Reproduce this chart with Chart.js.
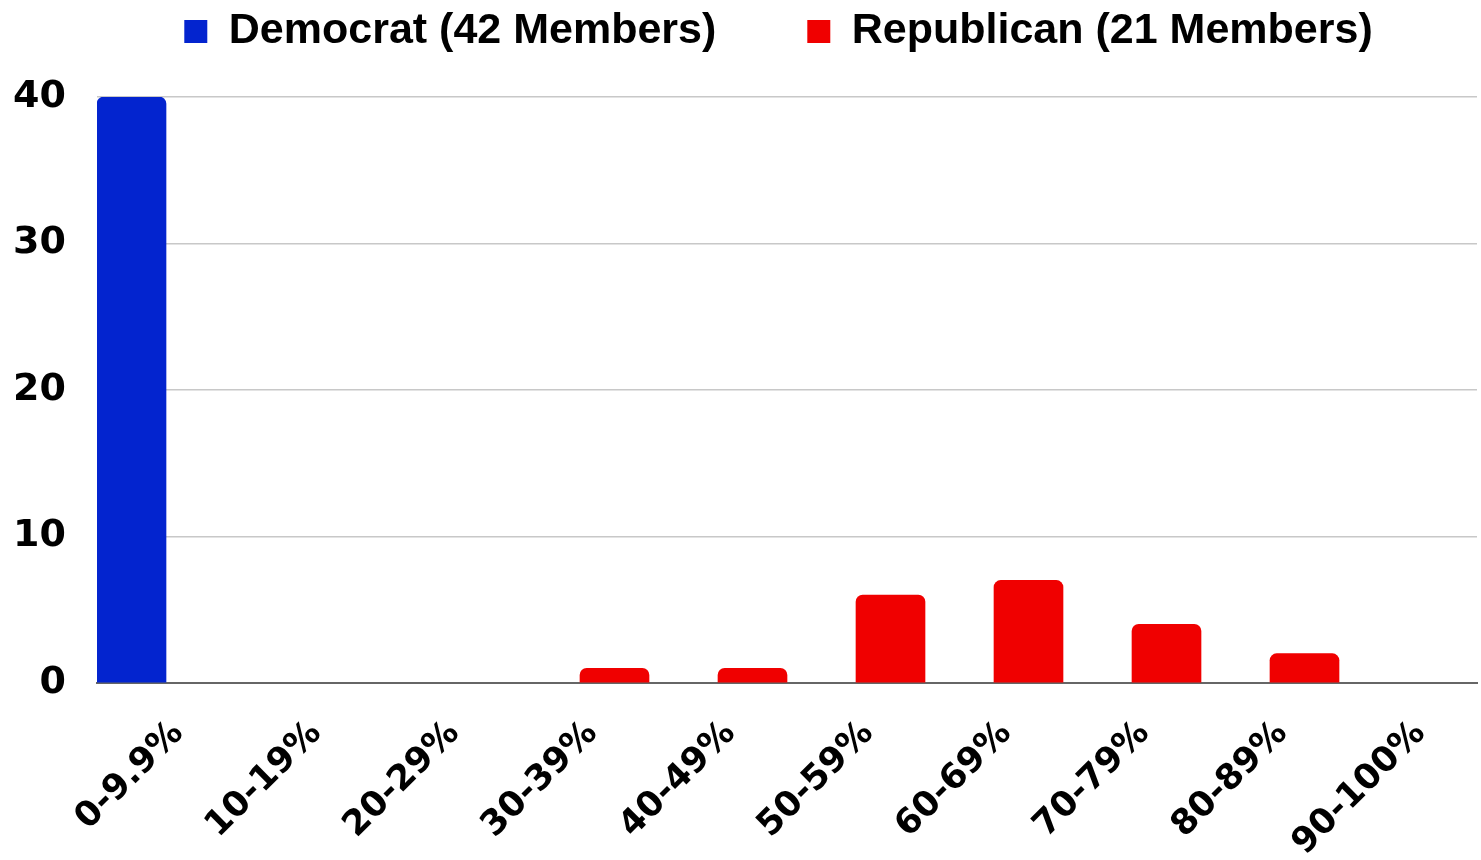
<!DOCTYPE html>
<html><head><meta charset="utf-8">
<script src="https://cdn.jsdelivr.net/npm/chart.js@4"></script>
<style>html,body{margin:0;padding:0;background:#fff}#wrap{width:1481px;height:860px}</style>
</head><body><div id="wrap"><canvas id="c"></canvas></div>
<script>
const categories = ["0-9.9%","10-19%","20-29%","30-39%","40-49%","50-59%","60-69%","70-79%","80-89%","90-100%"];
const democratValues = [40,0,0,0,0,0,0,0,0,0];
const republicanValues = [0,0,0,1,1,6,7,4,2,0];
const seriesNames = ["Democrat (42 Members)","Republican (21 Members)"];
const yTicks = [0,10,20,30,40];

const noZero = arr => arr.map(v => v === 0 ? null : v);

const legendFix = {
  id: 'legendFix',
  afterInit(chart) {
    const lg = chart.legend;
    if (!lg) return;
    const orig = lg.fit.bind(lg);
    lg.fit = function() { orig(); this.height = 97; };
  },
  afterLayout(chart) {
    const lg = chart.legend;
    if (!lg) return;
    lg.top = -81;
    lg.left += 40;
    lg.right += 40;
  }
};

new Chart(document.getElementById('c'), {
  type: 'bar',
  data: {
    labels: categories,
    datasets: [
      {label: seriesNames[0], data: noZero(democratValues), backgroundColor: '#0324cf', borderRadius: {topLeft:7, topRight:7}, borderSkipped:'bottom'},
      {label: seriesNames[1], data: noZero(republicanValues), backgroundColor: '#f00000', borderRadius: {topLeft:7, topRight:7}, borderSkipped:'bottom'}
    ]
  },
  plugins: [legendFix],
  options: {
    responsive: true, maintainAspectRatio: false, animation: false,
    layout: {padding: {left: 0, right: 4, top: 0, bottom: 0}},
    datasets: {bar: {categoryPercentage: 1.0, barPercentage: 1.0}},
    plugins: {
      tooltip: {enabled:false},
      legend: {
        position: 'top',
        labels: {
          boxWidth: 23, boxHeight: 23, padding: 91,
          color: '#000',
          font: {family: "'Liberation Sans Narrow', 'Liberation Sans'", weight: 'bold', size: 43}
        }
      }
    },
    scales: {
      x: {
        grid: {display: false},
        border: {display: true, color: '#666', width: 2},
        ticks: {color:'#000', maxRotation: 45, minRotation: 45, padding: 22, labelOffset: 12,
          font: {family: "'DejaVu Sans'", weight: 'bold', size: 35}},
        afterFit: s => { s.height = 177; }
      },
      y: {
        min: 0, max: 40,
        afterBuildTicks: s => { s.ticks = yTicks.map(v => ({value: v})); },
        grid: {color: '#c8c8c8', lineWidth: 1.5, drawTicks: false},
        border: {display: false},
        ticks: {color:'#000', padding: 31,
          font: {family: "'DejaVu Sans'", weight: 'bold', size: 38}},
        afterFit: s => { s.width = 97; }
      }
    }
  }
});
</script>
</body></html>
